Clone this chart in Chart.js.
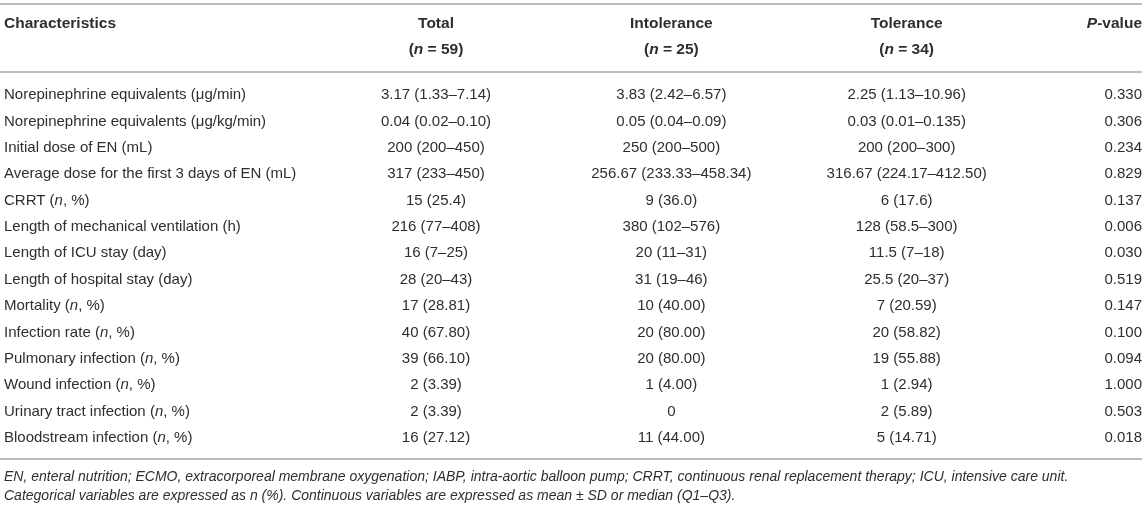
<!DOCTYPE html>
<html>
<head>
<meta charset="utf-8">
<title>EN intolerance characteristics</title>
<script src="https://cdn.jsdelivr.net/npm/chart.js@4.4.0/dist/chart.umd.min.js"></script>
<style>
    html, body { margin: 0; padding: 0; background: #fff; }
    #wrap { width: 1145px; height: 508px; position: relative; }
</style>
</head>
<body>
<div id="wrap"><canvas id="table-chart"></canvas></div>
<script>
// text between * is set in italic
var characteristics = [
    "Norepinephrine equivalents (\u03bcg/min)",
    "Norepinephrine equivalents (\u03bcg/kg/min)",
    "Initial dose of EN (mL)",
    "Average dose for the first 3 days of EN (mL)",
    "CRRT (*n*, %)",
    "Length of mechanical ventilation (h)",
    "Length of ICU stay (day)",
    "Length of hospital stay (day)",
    "Mortality (*n*, %)",
    "Infection rate (*n*, %)",
    "Pulmonary infection (*n*, %)",
    "Wound infection (*n*, %)",
    "Urinary tract infection (*n*, %)",
    "Bloodstream infection (*n*, %)"
];

var total = [
    "3.17 (1.33\u20137.14)", "0.04 (0.02\u20130.10)", "200 (200\u2013450)", "317 (233\u2013450)",
    "15 (25.4)", "216 (77\u2013408)", "16 (7\u201325)", "28 (20\u201343)", "17 (28.81)",
    "40 (67.80)", "39 (66.10)", "2 (3.39)", "2 (3.39)", "16 (27.12)"
];

var intolerance = [
    "3.83 (2.42\u20136.57)", "0.05 (0.04\u20130.09)", "250 (200\u2013500)", "256.67 (233.33\u2013458.34)",
    "9 (36.0)", "380 (102\u2013576)", "20 (11\u201331)", "31 (19\u201346)", "10 (40.00)",
    "20 (80.00)", "20 (80.00)", "1 (4.00)", "0", "11 (44.00)"
];

var tolerance = [
    "2.25 (1.13\u201310.96)", "0.03 (0.01\u20130.135)", "200 (200\u2013300)", "316.67 (224.17\u2013412.50)",
    "6 (17.6)", "128 (58.5\u2013300)", "11.5 (7\u201318)", "25.5 (20\u201337)", "7 (20.59)",
    "20 (58.82)", "19 (55.88)", "1 (2.94)", "2 (5.89)", "5 (14.71)"
];

var pValues = [
    "0.330", "0.306", "0.234", "0.829", "0.137", "0.006", "0.030",
    "0.519", "0.147", "0.100", "0.094", "1.000", "0.503", "0.018"
];

var columns = ["Total", "Intolerance", "Tolerance", "*P*-value"];
var groupSizes = ["(*n* = 59)", "(*n* = 25)", "(*n* = 34)", ""];
var firstHeader = "Characteristics";

var footnotes = [
    "EN, enteral nutrition; ECMO, extracorporeal membrane oxygenation; IABP, intra-aortic balloon pump; CRRT, continuous renal replacement therapy; ICU, intensive care unit.",
    "Categorical variables are expressed as n (%). Continuous variables are expressed as mean \u00b1 SD or median (Q1\u2013Q3)."
];

var FONT = "'Liberation Sans', Arial, Helvetica, sans-serif";
var TEXT_COLOR = "#2e2e2e";
var RULE_COLOR = "#bdbdbd";
var BODY_SIZE = 15;
var HEAD_SIZE = 15.5;
var NOTE_SIZE = 14;

function drawRich(ctx, text, x, y, align, size, bold, allItalic) {
    var parts = text.split("*");
    var fonts = parts.map(function (p, i) {
        var italic = allItalic || i % 2 === 1;
        return (italic ? "italic " : "") + (bold ? "bold " : "") + size + "px " + FONT;
    });
    var widths = parts.map(function (p, i) {
        ctx.font = fonts[i];
        return ctx.measureText(p).width;
    });
    var w = widths.reduce(function (a, b) { return a + b; }, 0);
    var cx = align === "center" ? x - w / 2 : (align === "right" ? x - w : x);
    ctx.textAlign = "left";
    ctx.textBaseline = "middle";
    parts.forEach(function (p, i) {
        ctx.font = fonts[i];
        ctx.fillText(p, cx, y);
        cx += widths[i];
    });
}

function rule(ctx, y, x0, x1) {
    ctx.save();
    ctx.strokeStyle = RULE_COLOR;
    ctx.lineWidth = 2;
    ctx.beginPath();
    ctx.moveTo(x0, y);
    ctx.lineTo(x1, y);
    ctx.stroke();
    ctx.restore();
}

var tablePlugin = {
    id: "tableCells",
    afterDatasetsDraw: function (chart) {
        var ctx = chart.ctx;
        var area = chart.chartArea;
        var xs = chart.scales.x;
        var ys = chart.scales.y;
        ctx.save();
        ctx.fillStyle = TEXT_COLOR;

        // rules
        rule(ctx, area.top - 78, 0, area.right);
        rule(ctx, area.top - 10, 0, area.right);
        rule(ctx, area.bottom + 8, 0, area.right);

        // header
        drawRich(ctx, firstHeader, ys.left, area.top - 58, "left", HEAD_SIZE, true, false);
        columns.forEach(function (c, i) {
            var x = xs.getPixelForValue(i);
            var align = i === columns.length - 1 ? "right" : "center";
            drawRich(ctx, c, x, area.top - 58, align, HEAD_SIZE, true, false);
            if (groupSizes[i]) {
                drawRich(ctx, groupSizes[i], x, area.top - 32, align, HEAD_SIZE, true, false);
            }
        });

        // row labels along the y axis
        characteristics.forEach(function (label, i) {
            drawRich(ctx, label, ys.left, ys.getPixelForValue(i), "left", BODY_SIZE, false, false);
        });

        // cells, placed at the points of each dataset
        chart.data.datasets.forEach(function (ds, d) {
            var meta = chart.getDatasetMeta(d);
            var align = d === chart.data.datasets.length - 1 ? "right" : "center";
            meta.data.forEach(function (pt, i) {
                drawRich(ctx, ds.cells[i], pt.x, pt.y, align, BODY_SIZE, false, false);
            });
        });

        // footnotes
        footnotes.forEach(function (f, i) {
            drawRich(ctx, f, ys.left, area.bottom + 26 + i * 19, "left", NOTE_SIZE, false, true);
        });
        ctx.restore();
    }
};

function columnData(values, col) {
    return values.map(function (v, i) {
        return { x: columns[col], y: i };
    });
}

var cellSets = [total, intolerance, tolerance, pValues];

new Chart(document.getElementById("table-chart"), {
    type: "scatter",
    data: {
        datasets: cellSets.map(function (values, c) {
            return {
                label: columns[c],
                data: columnData(values, c),
                cells: values,
                pointRadius: 0,
                pointHoverRadius: 0
            };
        })
    },
    options: {
        responsive: true,
        maintainAspectRatio: false,
        animation: false,
        events: [],
        layout: {
            padding: { top: 82, bottom: 57, left: 4, right: 3 }
        },
        plugins: {
            legend: { display: false },
            tooltip: { enabled: false }
        },
        scales: {
            x: {
                type: "category",
                labels: columns,
                offset: false,
                display: false
            },
            y: {
                type: "category",
                labels: characteristics,
                offset: true,
                display: true,
                grid: { display: false },
                border: { display: false },
                ticks: { display: false },
                afterFit: function (scale) {
                    scale.width = 432;
                }
            }
        }
    },
    plugins: [tablePlugin]
});
</script>
</body>
</html>
